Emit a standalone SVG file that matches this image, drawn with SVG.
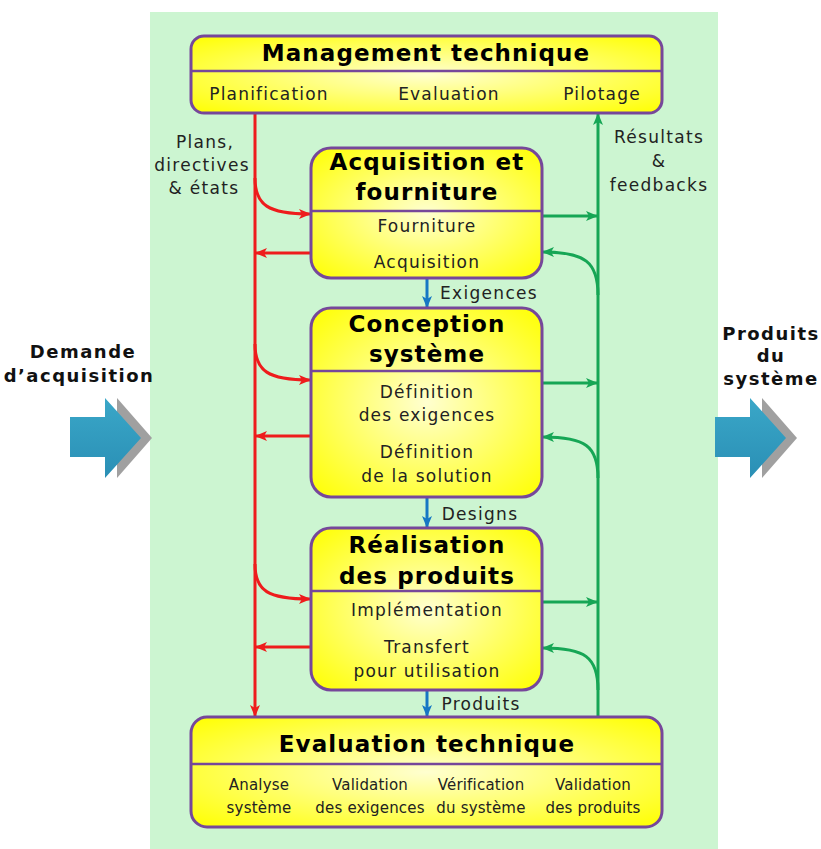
<svg xmlns="http://www.w3.org/2000/svg" width="821" height="849" viewBox="0 0 821 849">
<defs>
<radialGradient id="yg" cx="0.5" cy="0.5" r="0.7">
<stop offset="0" stop-color="#ffffd0"/>
<stop offset="1" stop-color="#ffff00"/>
</radialGradient>
<linearGradient id="bg" x1="0" y1="0" x2="0" y2="1">
<stop offset="0" stop-color="#3aa7c8"/>
<stop offset="1" stop-color="#2a8fb5"/>
</linearGradient>
<marker id="ar" markerUnits="userSpaceOnUse" markerWidth="12" markerHeight="12" refX="11" refY="6" orient="auto"><path d="M0,1 L12,6 L0,11 L3,6 Z" fill="#ee1c1c"/></marker>
<marker id="ag" markerUnits="userSpaceOnUse" markerWidth="12" markerHeight="12" refX="11" refY="6" orient="auto"><path d="M0,1 L12,6 L0,11 L3,6 Z" fill="#16a655"/></marker>
<marker id="ab" markerUnits="userSpaceOnUse" markerWidth="12" markerHeight="12" refX="11" refY="6" orient="auto"><path d="M0,1 L12,6 L0,11 L3,6 Z" fill="#1677c4"/></marker>
</defs>
<style>
.box{fill:url(#yg);stroke:#76479a;stroke-width:3}
.div{stroke:#76479a;stroke-width:2.5}
.t{font-family:"DejaVu Sans",sans-serif;font-weight:bold;font-size:23px;letter-spacing:1.1px;fill:#000;text-anchor:middle}
.s{font-family:"DejaVu Sans",sans-serif;font-size:17px;letter-spacing:1.2px;fill:#222;text-anchor:middle}
.e{font-family:"DejaVu Sans",sans-serif;font-size:15px;letter-spacing:0.2px;fill:#222;text-anchor:middle}
.l{font-family:"DejaVu Sans",sans-serif;font-size:17px;letter-spacing:1.3px;fill:#222;text-anchor:middle}
.io{font-family:"DejaVu Sans",sans-serif;font-weight:bold;font-size:18px;letter-spacing:1.5px;fill:#111;text-anchor:middle}
.r{fill:none;stroke:#ee1c1c;stroke-width:3}
.g{fill:none;stroke:#16a655;stroke-width:3}
.b{fill:none;stroke:#1677c4;stroke-width:3}
</style>
<rect x="150" y="12" width="568" height="837" fill="#ccf5d1"/>

<g id="input">
<text class="io" x="83" y="358">Demande</text>
<text class="io" x="79" y="382">d’acquisition</text>
<path d="M82,417 H117 V398 L152,438 L117,478 V457 H82 Z" fill="#a0a0a0"/>
<path d="M70,417 H105 V398 L141,438 L105,478 V457 H70 Z" fill="url(#bg)"/>
</g>
<g id="output">
<text class="io" x="771" y="340">Produits</text>
<text class="io" x="771" y="362">du</text>
<text class="io" x="771" y="385">système</text>
<path d="M727,417 H762 V398 L797,438 L762,478 V457 H727 Z" fill="#a0a0a0"/>
<path d="M715,417 H750 V398 L786,438 L750,478 V457 H715 Z" fill="url(#bg)"/>
</g>

<g id="connectors">
<path class="r" d="M255,113 V716" marker-end="url(#ar)"/>
<path class="r" d="M255,178 C255,205 268,214 310,214" marker-end="url(#ar)"/>
<path class="r" d="M255,344 C255,371 268,380 310,380" marker-end="url(#ar)"/>
<path class="r" d="M255,564 C255,591 268,599 310,599" marker-end="url(#ar)"/>
<path class="r" d="M311,253 H256" marker-end="url(#ar)"/>
<path class="r" d="M311,436 H256" marker-end="url(#ar)"/>
<path class="r" d="M311,647 H256" marker-end="url(#ar)"/>
<path class="g" d="M598,717 V114" marker-end="url(#ag)"/>
<path class="g" d="M542,216 H597" marker-end="url(#ag)"/>
<path class="g" d="M542,383 H597" marker-end="url(#ag)"/>
<path class="g" d="M542,602 H597" marker-end="url(#ag)"/>
<path class="g" d="M598,295 C598,262 585,252 543,252" marker-end="url(#ag)"/>
<path class="g" d="M598,478 C598,446 585,437 543,437" marker-end="url(#ag)"/>
<path class="g" d="M598,690 C598,657 585,648 543,648" marker-end="url(#ag)"/>
<path class="b" d="M427,278 V307" marker-end="url(#ab)"/>
<path class="b" d="M427,497 V527" marker-end="url(#ab)"/>
<path class="b" d="M427,690 V716" marker-end="url(#ab)"/>
<text class="l" x="489" y="299">Exigences</text>
<text class="l" x="480" y="520">Designs</text>
<text class="l" x="481" y="710">Produits</text>
<text class="l" x="205" y="148">Plans,</text>
<text class="l" x="202" y="171">directives</text>
<text class="l" x="204" y="194">&amp; états</text>
<text class="l" x="659" y="143">Résultats</text>
<text class="l" x="659" y="167">&amp;</text>
<text class="l" x="659" y="191">feedbacks</text>
</g>

<g id="management">
<rect class="box" x="191" y="36" width="471" height="77" rx="13"/>
<line class="div" x1="192" y1="71" x2="661" y2="71"/>
<text class="t" x="426" y="61">Management technique</text>
<text class="s" x="269" y="100">Planification</text>
<text class="s" x="449" y="100">Evaluation</text>
<text class="s" x="602" y="100">Pilotage</text>
</g>

<g id="acquisition">
<rect class="box" x="311" y="148" width="231" height="130" rx="20"/>
<line class="div" x1="312" y1="211" x2="541" y2="211"/>
<text class="t" x="427" y="170">Acquisition et</text>
<text class="t" x="427" y="200">fourniture</text>
<text class="s" x="427" y="232">Fourniture</text>
<text class="s" x="427" y="268">Acquisition</text>
</g>

<g id="conception">
<rect class="box" x="311" y="308" width="231" height="189" rx="20"/>
<line class="div" x1="312" y1="371" x2="541" y2="371"/>
<text class="t" x="427" y="332">Conception</text>
<text class="t" x="427" y="362">système</text>
<text class="s" x="427" y="398">Définition</text>
<text class="s" x="427" y="421">des exigences</text>
<text class="s" x="427" y="458">Définition</text>
<text class="s" x="427" y="482">de la solution</text>
</g>

<g id="realisation">
<rect class="box" x="311" y="528" width="231" height="162" rx="20"/>
<line class="div" x1="312" y1="591" x2="541" y2="591"/>
<text class="t" x="427" y="553">Réalisation</text>
<text class="t" x="427" y="584">des produits</text>
<text class="s" x="427" y="616">Implémentation</text>
<text class="s" x="427" y="653">Transfert</text>
<text class="s" x="427" y="677">pour utilisation</text>
</g>

<g id="evaluation">
<rect class="box" x="191" y="717" width="471" height="110" rx="16"/>
<line class="div" x1="192" y1="764" x2="661" y2="764"/>
<text class="t" x="427" y="752">Evaluation technique</text>
<text class="e" x="259" y="790">Analyse</text>
<text class="e" x="259" y="813">système</text>
<text class="e" x="370" y="790">Validation</text>
<text class="e" x="370" y="813">des exigences</text>
<text class="e" x="481" y="790">Vérification</text>
<text class="e" x="481" y="813">du système</text>
<text class="e" x="593" y="790">Validation</text>
<text class="e" x="593" y="813">des produits</text>
</g>
</svg>
